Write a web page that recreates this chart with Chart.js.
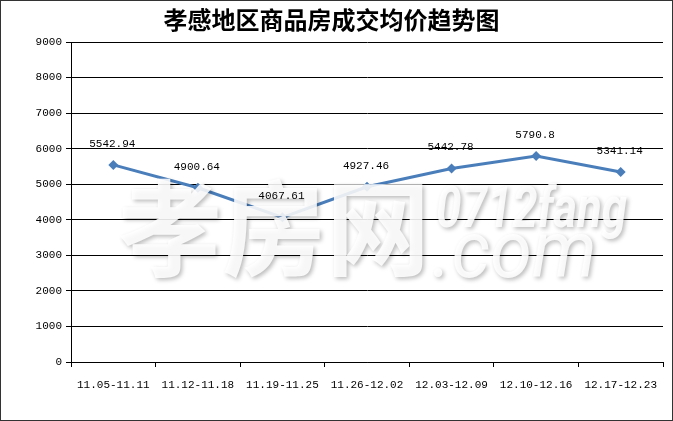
<!DOCTYPE html>
<html>
<head>
<meta charset="utf-8">
<script src="https://cdn.jsdelivr.net/npm/chart.js@4"></script>
<style>
  html, body { margin: 0; padding: 0; background: #fff; }
  #wrap { width: 673px; height: 421px; position: relative; }
</style>
</head>
<body>
<div id="wrap"><canvas id="priceChart" width="673" height="421"></canvas></div>
<script>
// Data
const weeks = ['11.05-11.11', '11.12-11.18', '11.19-11.25', '11.26-12.02', '12.03-12.09', '12.10-12.16', '12.17-12.23'];
const avgPrice = [5542.94, 4900.64, 4067.61, 4927.46, 5442.78, 5790.8, 5341.14];
const priceLabels = ['5542.94', '4900.64', '4067.61', '4927.46', '5442.78', '5790.8', '5341.14'];
const titleText = '孝感地区商品房成交均价趋势图';

const LINE_COLOR = '#4A7EBB';
const TICK_FONT = { family: '"Liberation Mono", "DejaVu Sans Mono", monospace', size: 11 };

// Outer frame around whole picture
const framePlugin = {
  id: 'frame',
  afterDraw(chart) {
    const c = chart.ctx;
    c.save();
    c.strokeStyle = '#333';
    c.lineWidth = 1;
    c.strokeRect(0.5, 0.5, chart.width - 1, chart.height - 1);
    c.restore();
  }
};

// Site watermark over the plot (under the value labels)
function condensedText(c, text, x, y, sx) {
  c.save();
  c.translate(x, y);
  c.scale(sx, 1);
  c.fillText(text, 0, 0);
  c.restore();
}

const watermarkPlugin = {
  id: 'watermark',
  afterDatasetsDraw(chart) {
    const c = chart.ctx;
    c.save();
    c.fillStyle = 'rgba(255,255,255,0.88)';
    c.shadowColor = 'rgba(0,0,0,0.3)';
    c.shadowBlur = 4;
    c.shadowOffsetX = 2;
    c.shadowOffsetY = 2;
    c.textBaseline = 'alphabetic';
    c.font = 'bold 104px "Noto Sans CJK SC"';
    c.fillText('孝房网', 118, 268);
    c.font = 'italic bold 57px Roboto';
    condensedText(c, '0712fang', 436, 227, 0.8);
    c.font = 'italic 80px Roboto';
    condensedText(c, '.com', 432, 277, 0.95);
    c.restore();
  }
};

// Value labels above points
const valueLabelPlugin = {
  id: 'valueLabels',
  afterDatasetsDraw(chart) {
    const c = chart.ctx;
    const meta = chart.getDatasetMeta(0);
    c.save();
    c.font = '11px "Liberation Mono", "DejaVu Sans Mono", monospace';
    c.fillStyle = '#000';
    c.textAlign = 'center';
    c.textBaseline = 'middle';
    meta.data.forEach((pt, i) => {
      c.fillText(priceLabels[i], pt.x - 1, pt.y - 21);
    });
    c.restore();
  }
};

const ctx = document.getElementById('priceChart').getContext('2d');
const priceChart = new Chart(ctx, {
  type: 'line',
  data: {
    labels: weeks,
    datasets: [{
      data: avgPrice,
      borderColor: LINE_COLOR,
      backgroundColor: LINE_COLOR,
      borderWidth: 3,
      tension: 0,
      fill: false,
      pointStyle: 'rectRot',
      pointRadius: 5,
      pointBorderWidth: 0,
    }]
  },
  options: {
    responsive: false,
    animation: false,
    devicePixelRatio: 1,
    layout: { padding: { left: 0, right: 10, top: 0, bottom: 0 } },
    scales: {
      x: {
        offset: true,
        grid: {
          offset: true,
          drawOnChartArea: false,
          drawTicks: true,
          tickLength: 5,
          color: '#000',
        },
        border: { color: '#000', width: 1 },
        ticks: { color: '#000', font: TICK_FONT, padding: 11, maxRotation: 0, autoSkip: false },
        afterFit(scale) { scale.height = 59; }
      },
      y: {
        min: 0,
        max: 9000,
        grid: { color: '#000', tickLength: 5 },
        border: { color: '#000', width: 1 },
        ticks: {
          stepSize: 1000, color: '#000', font: TICK_FONT, padding: 4,
          callback: function(value) { return String(value); }
        },
        afterFit(scale) { scale.width = 71; }
      }
    },
    plugins: {
      legend: { display: false },
      tooltip: { enabled: false },
      title: {
        display: true,
        text: titleText,
        color: '#000',
        font: { family: '"Noto Sans CJK SC"', size: 24, weight: 'bold', lineHeight: 1.0 },
        padding: { top: 8, bottom: 10 }
      }
    }
  },
  plugins: [watermarkPlugin, valueLabelPlugin, framePlugin]
});
</script>
</body>
</html>
